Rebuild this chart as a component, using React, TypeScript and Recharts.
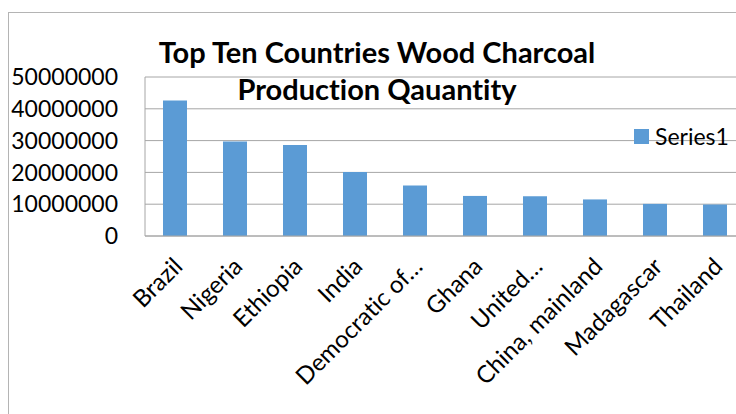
import { BarChart, Bar, XAxis, YAxis, CartesianGrid } from 'recharts';

const countries = [
  'Brazil', 'Nigeria', 'Ethiopia', 'India', 'Democratic of…',
  'Ghana', 'United…', 'China, mainland', 'Madagascar', 'Thailand',
];
const series1 = [
  42600000, 29700000, 28600000, 20100000, 15900000,
  12600000, 12500000, 11500000, 10100000, 9900000,
];
const yTicks = [0, 10000000, 20000000, 30000000, 40000000, 50000000];

const data = countries.map((name, i) => ({ name, Series1: series1[i] }));

const FONT = 'Lato, "Open Sans", sans-serif';

// eslint-disable-next-line @typescript-eslint/no-explicit-any
const AngledTick = ({ x, y, payload }: any) => {
  const ax = x + 9;
  const ay = y + 30;
  return (
    <text
      x={ax} y={ay}
      transform={`rotate(-45 ${ax} ${ay})`}
      textAnchor="end"
      fontSize={24}
      fontFamily={FONT}
      fill="#000"
      style={{ fontVariantLigatures: 'none' }}
    >
      {payload.value}
    </text>
  );
};

export default function App() {
  return (
    <div style={{
      position: 'absolute', left: 0, top: 0, width: 736, height: 414,
      overflow: 'hidden', background: '#fff',
    }}>
      <div style={{
        position: 'absolute', left: 8, top: 12, width: 900, height: 600,
        border: '1px solid #b4b4b4',
      }} />
      <BarChart
        width={760}
        height={414}
        data={data}
        margin={{ top: 77, right: 15, left: 0, bottom: 0 }}
        style={{ position: 'absolute', left: 0, top: 0 }}
      >
        <CartesianGrid vertical={false} stroke="#a6a6a6" />
        <XAxis
          dataKey="name"
          interval={0}
          height={178}
          tickLine={false}
          tickSize={0}
          axisLine={{ stroke: '#a6a6a6' }}
          tick={<AngledTick />}
        />
        <YAxis
          width={145}
          domain={[0, 50000000]}
          ticks={yTicks}
          interval={0}
          tickLine={false}
          tickSize={0}
          tickMargin={27}
          axisLine={{ stroke: '#a6a6a6' }}
          tick={{ fontSize: 23, fontFamily: FONT, fill: '#000' }}
        />
        <Bar dataKey="Series1" fill="#5b9bd5" barSize={24} isAnimationActive={false} />
      </BarChart>
      {/* legend */}
      <div style={{
        position: 'absolute', left: 634, top: 122, display: 'flex', alignItems: 'center',
        fontFamily: FONT, fontSize: 23, color: '#000', whiteSpace: 'nowrap',
      }}>
        <span style={{ width: 15, height: 15, background: '#5b9bd5', marginRight: 6, display: 'inline-block' }} />
        Series1
      </div>
      <div style={{
        position: 'absolute', left: 0, width: 754, top: 33, textAlign: 'center',
        fontFamily: FONT, fontWeight: 700, fontSize: 29, lineHeight: '37px', color: '#000',
        fontVariantLigatures: 'none',
      }}>
        Top Ten Countries Wood Charcoal<br />Production Qauantity
      </div>
    </div>
  );
}
